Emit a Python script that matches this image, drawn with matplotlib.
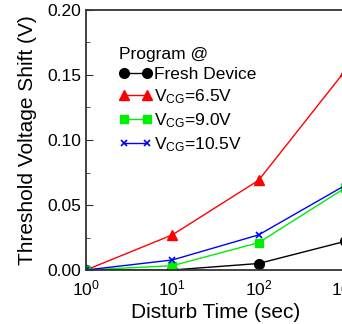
import matplotlib
matplotlib.use("Agg")
import matplotlib.pyplot as plt
from matplotlib.ticker import MultipleLocator, LogLocator, NullLocator

plt.rcParams['font.family'] = ['Liberation Sans', 'DejaVu Sans']
plt.rcParams['mathtext.fontset'] = 'custom'
plt.rcParams['mathtext.rm'] = 'Liberation Sans'
plt.rcParams['mathtext.it'] = 'Liberation Sans'

time = [1, 10, 100, 1000]
fresh = [0.0, 0.0, 0.005, 0.022]
vcg65 = [0.0, 0.027, 0.069, 0.153]
vcg90 = [0.0, 0.0033, 0.021, 0.063]
vcg105 = [0.0, 0.0077, 0.027, 0.065]
labels = ["Fresh Device", "V$_{\\rm CG}$=6.5V", "V$_{\\rm CG}$=9.0V", "V$_{\\rm CG}$=10.5V"]

fig = plt.figure(figsize=(3.42, 3.24), dpi=100)
ax = fig.add_axes([86/342, 54/324, 345.2/342, 260/324])

ax.plot(time, fresh, color='black', marker='o', ms=7, lw=1, label=labels[0])
ax.plot(time, vcg65, color='red', marker='^', ms=7.5, lw=1, label=labels[1])
ax.plot(time, vcg90, color='#00ee00', marker='s', ms=6, lw=1, label=labels[2])
ax.plot(time, vcg105, color='blue', marker='x', ms=5, mew=1.2, lw=1, label=labels[3])

ax.set_xscale('log')
ax.set_xlim(1, 1e4)
ax.set_ylim(0, 0.20)
ax.yaxis.set_major_locator(MultipleLocator(0.05))
ax.yaxis.set_minor_locator(MultipleLocator(0.025))
ax.xaxis.set_major_locator(LogLocator(base=10, numticks=10))
ax.xaxis.set_minor_locator(NullLocator())
ax.yaxis.set_major_formatter(matplotlib.ticker.FormatStrFormatter('%.2f'))
ax.tick_params(direction='in', which='both', labelsize=12.5, colors='#333333', labelcolor='black')
ax.tick_params(which='major', length=5)
ax.tick_params(which='minor', length=3)
ax.tick_params(axis='x', pad=6)
for s in ax.spines.values():
    s.set_color('#333333')
    s.set_linewidth(1.3)

ax.set_xlabel('Disturb Time (sec)', fontsize=15, labelpad=1)
ax.xaxis.set_label_coords((216-86)/345.2, -0.125)
ax.set_ylabel('Threshold Voltage Shift (V)', fontsize=15, labelpad=7)

leg = ax.legend(loc='upper left', bbox_to_anchor=(0.075, 0.885), frameon=False,
                title='Program @', fontsize=12.5, title_fontsize=12.5, numpoints=2,
                handlelength=1.9, handletextpad=0.15, labelspacing=0.3,
                borderaxespad=0, alignment='left')

fig.savefig('out.png', dpi=100)
